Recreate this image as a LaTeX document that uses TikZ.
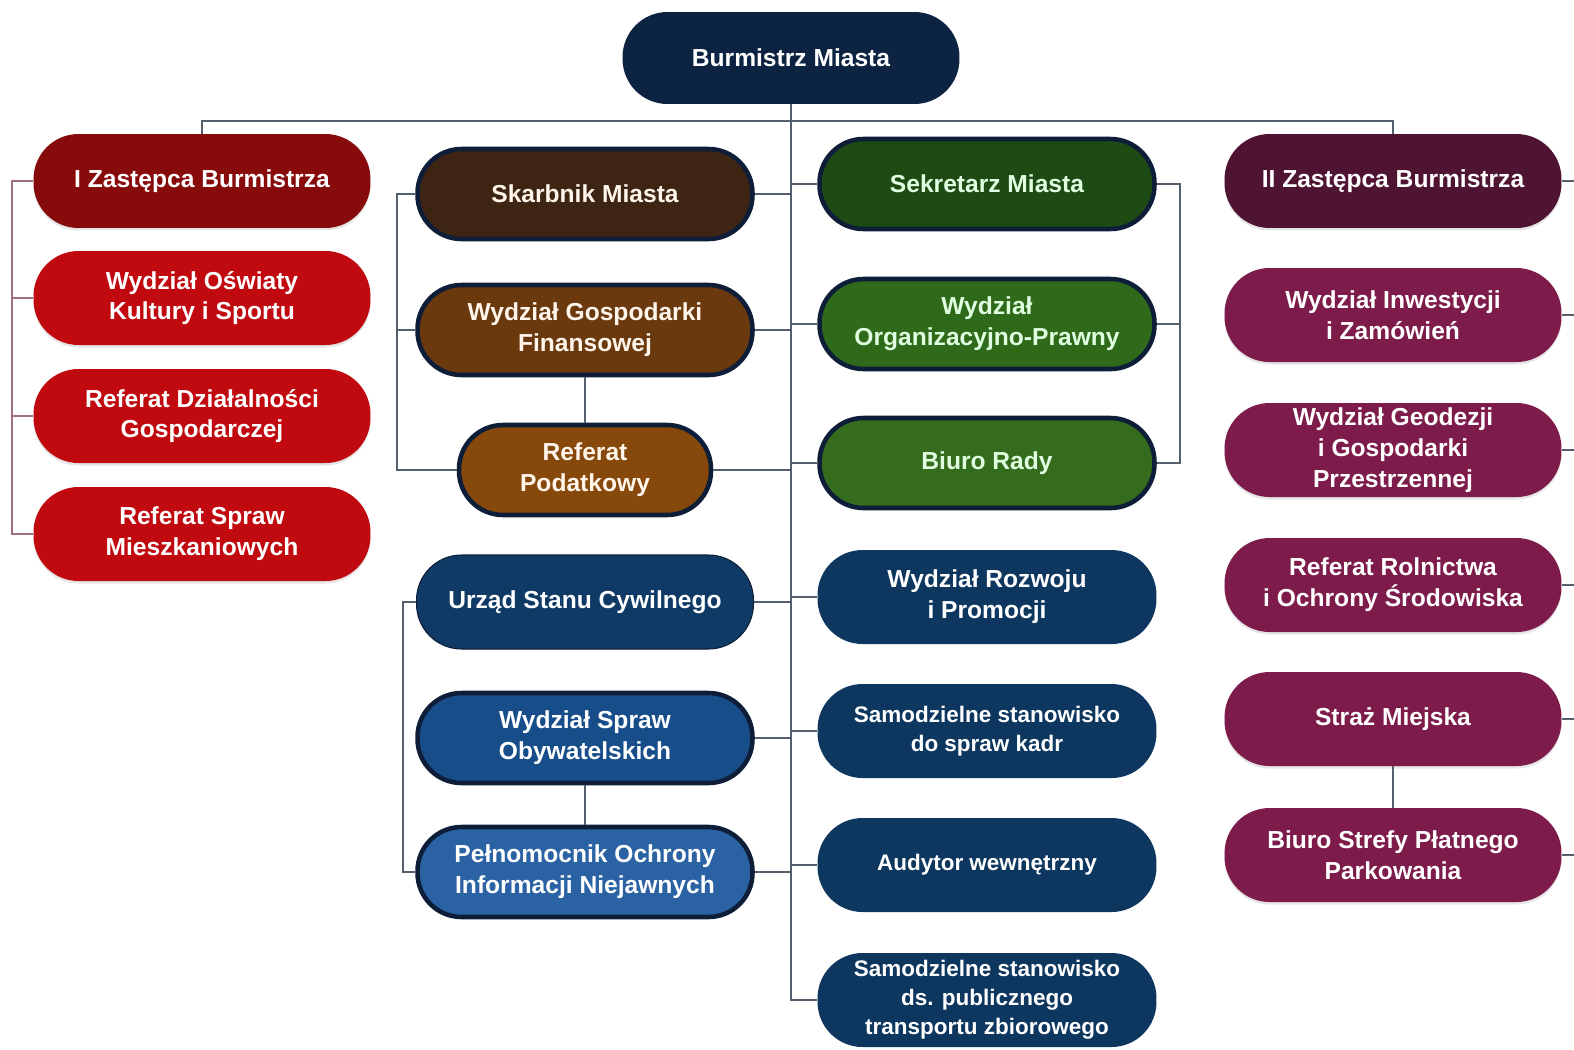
\documentclass[tikz,border=0pt]{standalone}
\usepackage{fontspec}
\setmainfont{Liberation Sans}
\usetikzlibrary{shadows}

\definecolor{topnavy}{HTML}{0C2341}
\definecolor{edge}{HTML}{0E1E38}
\definecolor{wire}{HTML}{55606E}
\definecolor{rosewire}{HTML}{A0707A}
\definecolor{reddark}{HTML}{870B0B}
\definecolor{redmid}{HTML}{C00A0F}
\definecolor{browna}{HTML}{3E2413}
\definecolor{brownb}{HTML}{6A390E}
\definecolor{brownc}{HTML}{86490B}
\definecolor{greena}{HTML}{1E4A14}
\definecolor{greenb}{HTML}{2F6A1A}
\definecolor{greenc}{HTML}{346B1C}
\definecolor{bluea}{HTML}{0F3A66}
\definecolor{blueb}{HTML}{174E8A}
\definecolor{bluec}{HTML}{2A62A3}
\definecolor{blued}{HTML}{0E3760}
\definecolor{plumdark}{HTML}{4F1432}
\definecolor{plum}{HTML}{7D1B4A}

\tikzset{
  unit/.style={rectangle, rounded corners=0.9cm, minimum width=6.74cm, minimum height=1.88cm,
    align=center, text=white, inner sep=2pt, font=\bfseries\fontsize{14}{17.6}\selectfont},
  framed/.style={unit, draw=edge, line width=2.6pt, minimum width=6.7cm, minimum height=1.8cm, rounded corners=0.88cm},
  small/.style={font=\bfseries\fontsize{12.8}{16.6}\selectfont},
  soft/.style={drop shadow={opacity=0.2, shadow xshift=0pt, shadow yshift=-0.05cm}},
  link/.style={draw=wire, line width=1.1pt},
  redlink/.style={draw=rosewire, line width=1.2pt}
}

\begin{document}
\begin{tikzpicture}[x=0.02cm, y=-0.02cm]
\fill[white] (0,0) rectangle (1574,1049);
\useasboundingbox (0,0) rectangle (1574,1049);

\node[unit, fill=topnavy, minimum height=1.84cm] (burm) at (791,58) {Burmistrz Miasta};

\node[unit, soft, fill=reddark] (zast1) at (202,181) {I Zastępca Burmistrza};
\node[unit, soft, fill=redmid] (oswiaty) at (202,298) {Wydział Oświaty\\Kultury i Sportu};
\node[unit, soft, fill=redmid] (dzial) at (202,416) {Referat Działalności\\Gospodarczej};
\node[unit, soft, fill=redmid] (mieszk) at (202,534) {Referat Spraw\\Mieszkaniowych};

\node[framed, fill=browna, text=white!92!orange] (skarb) at (585,194) {Skarbnik Miasta};
\node[framed, fill=brownb, text=white!92!orange] (gosp) at (585,330) {Wydział Gospodarki\\Finansowej};
\node[framed, fill=brownc, text=white!92!orange, minimum width=5.04cm] (podat) at (585,470) {Referat\\Podatkowy};

\node[framed, fill=greena, text=white!88!green] (sekr) at (987,184) {Sekretarz Miasta};
\node[framed, fill=greenb, text=white!88!green] (orgpr) at (987,324) {Wydział\\Organizacyjno-Prawny};
\node[framed, fill=greenc, text=white!88!green] (rady) at (987,463) {Biuro Rady};

\node[unit, fill=bluea, draw=edge, line width=0.6pt] (usc) at (585,602) {Urząd Stanu Cywilnego};
\node[framed, fill=blueb] (obyw) at (585,738) {Wydział Spraw\\Obywatelskich};
\node[framed, fill=bluec] (pelno) at (585,872) {Pełnomocnik Ochrony\\Informacji Niejawnych};

\node[unit, fill=blued, minimum width=6.78cm] (rozw) at (987,597) {Wydział Rozwoju\\i Promocji};
\node[unit, small, fill=blued, minimum width=6.78cm] (kadr) at (987,731) {Samodzielne stanowisko\\do spraw kadr};
\node[unit, small, fill=blued, minimum width=6.78cm] (audyt) at (987,865) {Audytor wewnętrzny};
\node[unit, small, fill=blued, minimum width=6.78cm] (transp) at (987,1000) {Samodzielne stanowisko\\ds. publicznego\\transportu zbiorowego};

\node[unit, soft, fill=plumdark] (zast2) at (1393,181) {II Zastępca Burmistrza};
\node[unit, soft, fill=plum] (inwest) at (1393,315) {Wydział Inwestycji\\i Zamówień};
\node[unit, soft, fill=plum] (geod) at (1393,450) {Wydział Geodezji\\i Gospodarki\\Przestrzennej};
\node[unit, soft, fill=plum] (roln) at (1393,585) {Referat Rolnictwa\\i Ochrony Środowiska};
\node[unit, soft, fill=plum] (straz) at (1393,719) {Straż Miejska};
\node[unit, soft, fill=plum] (parking) at (1393,855) {Biuro Strefy Płatnego\\Parkowania};

\draw[link] (zast1.north) -- ++(0,-13) -| (zast2.north);
\draw[link] (burm.south) |- (transp.west);

\draw[redlink] (zast1.west) -- ++(-21,0) coordinate (rbar) |- (mieszk.west);
\draw[redlink] (oswiaty.west) -- (oswiaty.west -| rbar);
\draw[redlink] (dzial.west) -- (dzial.west -| rbar);

\draw[link] (skarb.west) -- ++(-18,0) coordinate (bbar) |- (podat.west);
\draw[link] (gosp.west) -- (gosp.west -| bbar);
\draw[link] (gosp.south) -- (podat.north);
\draw[link] (skarb.east) -- (skarb.east -| burm.south);
\draw[link] (gosp.east) -- (gosp.east -| burm.south);
\draw[link] (podat.east) -- (podat.east -| burm.south);

\draw[link] (sekr.east) -- ++(23,0) coordinate (gbar) |- (rady.east);
\draw[link] (orgpr.east) -- (orgpr.east -| gbar);
\draw[link] (burm.south |- sekr.west) -- (sekr.west);
\draw[link] (burm.south |- orgpr.west) -- (orgpr.west);
\draw[link] (burm.south |- rady.west) -- (rady.west);

\draw[link] (usc.west) -- ++(-13,0) coordinate (ubar) |- (pelno.west);
\draw[link] (obyw.south) -- (pelno.north);
\draw[link] (usc.east) -- (usc.east -| burm.south);
\draw[link] (obyw.east) -- (obyw.east -| burm.south);
\draw[link] (pelno.east) -- (pelno.east -| burm.south);

\draw[link] (burm.south |- rozw.west) -- (rozw.west);
\draw[link] (burm.south |- kadr.west) -- (kadr.west);
\draw[link] (burm.south |- audyt.west) -- (audyt.west);

\draw[link] (zast2.east) -- ++(14,0);
\draw[link] (inwest.east) -- ++(14,0);
\draw[link] (geod.east) -- ++(14,0);
\draw[link] (roln.east) -- ++(14,0);
\draw[link] (straz.east) -- ++(14,0);
\draw[link] (parking.east) -- ++(14,0);
\draw[link] (straz.south) -- (parking.north);

\end{tikzpicture}
\end{document}
